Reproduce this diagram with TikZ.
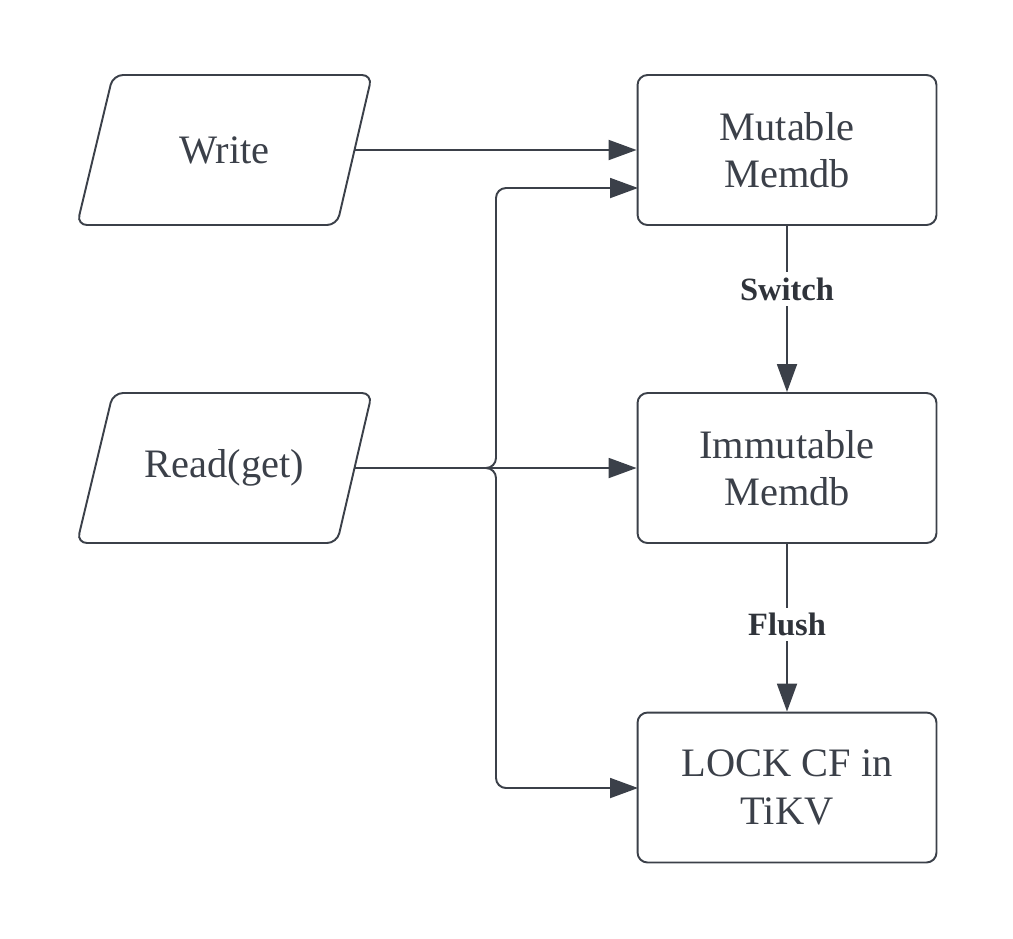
\documentclass[tikz,border=0pt]{standalone}
\usepackage{fontspec}
\setmainfont{Liberation Serif}
\usetikzlibrary{arrows.meta}
\definecolor{ink}{HTML}{3B4049}
\begin{document}
\begin{tikzpicture}[x=0.02cm,y=-0.02cm,
    box/.style={draw=ink,line width=1.1pt,rounded corners=0.2cm,minimum width=5.98cm,minimum height=3cm,
        align=center,text=ink,font=\fontsize{23}{27}\selectfont},
    io/.style={box,draw=none,minimum width=5.2cm},
    edge/.style={draw=ink,line width=1.1pt,rounded corners=0.2cm},
    arr/.style={draw=ink,line width=1.1pt,-{Triangle[length=0.56cm,width=0.4cm]}},
    lbl/.style={fill=white,text=ink!80!black,font=\bfseries\fontsize{18.5}{20}\selectfont,inner sep=3pt}]
\useasboundingbox (0,0) rectangle (1013,938);
\node[io] (write) at (224.5,150) {Write};
\node[io] (read) at (224.5,468) {Read(get)};
\node[box] (mutable) at (787,150) {Mutable\\Memdb};
\node[box] (immutable) at (787,468) {Immutable\\Memdb};
\node[box] (lock) at (787,787.5) {LOCK CF in\\TiKV};
\coordinate (split) at (496,468);
\coordinate (toMut) at (638,188);
\coordinate (toLock) at (638,788);

% parallelograms
\foreach \y in {150,468}
    \draw[edge] (113,\y-75) -- (372,\y-75) -- (337,\y+75) -- (77,\y+75) -- cycle;

\draw[arr] (write.east) -- (write.east -| mutable.west);
\draw[arr] (read.east) -- (immutable.west);
\draw[arr,rounded corners=0.2cm] (read.east) -- (split) |- (toMut);
\draw[arr,rounded corners=0.2cm] (read.east) -- (split) |- (toLock);
\draw[arr] (mutable.south) -- node[lbl,pos=0.38] {Switch} (immutable.north);
\draw[arr] (immutable.south) -- node[lbl,pos=0.48] {Flush} (lock.north);
\end{tikzpicture}
\end{document}
